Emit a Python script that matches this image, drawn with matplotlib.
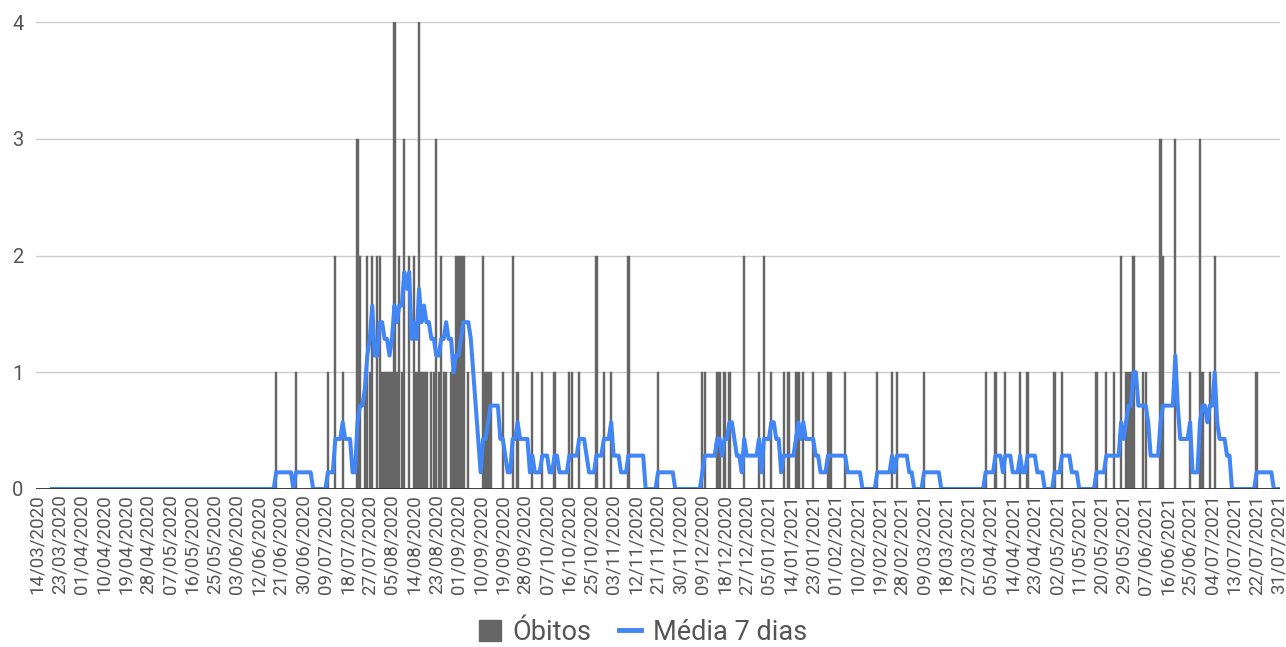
import matplotlib
matplotlib.use('Agg')
import matplotlib.pyplot as plt
from matplotlib.lines import Line2D
from matplotlib.patches import Patch
import pandas as pd

plt.rcParams['font.family'] = ['Roboto', 'DejaVu Sans']

inicio = '2020-03-14'
fim = '2021-07-31'

# dias com óbitos (os demais dias do período têm 0)
datas_obito = [
    '2020-06-19', '2020-06-27', '2020-07-10', '2020-07-13', '2020-07-16',
    '2020-07-22', '2020-07-23', '2020-07-25', '2020-07-26', '2020-07-27',
    '2020-07-28', '2020-07-30', '2020-07-31', '2020-08-01', '2020-08-02',
    '2020-08-03', '2020-08-04', '2020-08-05', '2020-08-06', '2020-08-07',
    '2020-08-08', '2020-08-09', '2020-08-10', '2020-08-12', '2020-08-14',
    '2020-08-15', '2020-08-16', '2020-08-17', '2020-08-18', '2020-08-19',
    '2020-08-21', '2020-08-22', '2020-08-23', '2020-08-24', '2020-08-25',
    '2020-08-26', '2020-08-27', '2020-08-29', '2020-08-30', '2020-08-31',
    '2020-09-01', '2020-09-02', '2020-09-03', '2020-09-05', '2020-09-11',
    '2020-09-12', '2020-09-13', '2020-09-14', '2020-09-19', '2020-09-23',
    '2020-09-25', '2020-10-01', '2020-10-05', '2020-10-10', '2020-10-16',
    '2020-10-17', '2020-10-20', '2020-10-27', '2020-10-30', '2020-11-02',
    '2020-11-09', '2020-11-21', '2020-12-09', '2020-12-10', '2020-12-15',
    '2020-12-16', '2020-12-18', '2020-12-20', '2020-12-26', '2021-01-01',
    '2021-01-03', '2021-01-06', '2021-01-11', '2021-01-13', '2021-01-16',
    '2021-01-17', '2021-01-19', '2021-01-23', '2021-01-29', '2021-01-30',
    '2021-02-05', '2021-02-18', '2021-02-24', '2021-02-26', '2021-03-09',
    '2021-04-03', '2021-04-07', '2021-04-11', '2021-04-17', '2021-04-20',
    '2021-05-01', '2021-05-04', '2021-05-18', '2021-05-22', '2021-05-25',
    '2021-05-28', '2021-05-30', '2021-05-31', '2021-06-01', '2021-06-02',
    '2021-06-06', '2021-06-07', '2021-06-13', '2021-06-14', '2021-06-19',
    '2021-06-25', '2021-06-29', '2021-06-30', '2021-07-03', '2021-07-05',
    '2021-07-22',
]
obitos = [
    1, 1, 1, 2, 1,
    3, 2, 1, 2, 1,
    2, 2, 2, 1, 1,
    1, 1, 1, 4, 1,
    2, 1, 3, 2, 2,
    1, 4, 1, 1, 1,
    1, 1, 3, 1, 2,
    1, 1, 1, 1, 2,
    2, 2, 2, 1, 2,
    1, 1, 1, 1, 2,
    1, 1, 1, 1, 1,
    1, 1, 2, 1, 1,
    2, 1, 1, 1, 1,
    1, 1, 1, 2, 1,
    2, 1, 1, 1, 1,
    1, 1, 1, 1, 1,
    1, 1, 1, 1, 1,
    1, 1, 1, 1, 1,
    1, 1, 1, 1, 1,
    2, 1, 1, 1, 2,
    1, 1, 3, 2, 3,
    1, 3, 1, 1, 2,
    1,
]

dias = pd.date_range(inicio, fim, freq='D')
serie = pd.Series(obitos, index=pd.to_datetime(datas_obito)).reindex(dias, fill_value=0)
media = serie.rolling(7).mean()
x = range(len(dias))

fig = plt.figure(figsize=(12.86, 6.47), dpi=100)
ax = fig.add_axes([36 / 1286, 1 - 489 / 647, (1280 - 36) / 1286, (489 - 22) / 647])

ax.bar(x, serie.values, width=0.9, color='#666666', edgecolor='#666666', linewidth=0.3, zorder=2)
ax.plot(x, media.values, color='#4285f4', linewidth=2.9, zorder=3)

ax.set_xlim(-0.5, len(dias) - 0.5)
ax.set_ylim(0, 4)
ax.set_yticks([0, 1, 2, 3, 4])
ax.grid(axis='y', color='#cccccc', linewidth=1, zorder=0)
ax.axhline(0, color='#333333', linewidth=1.3, zorder=4)
for s in ax.spines.values():
    s.set_visible(False)

pos = list(range(0, len(dias), 9))
ax.set_xticks(pos)
ax.set_xticklabels([dias[i].strftime('%d/%m/%Y') for i in pos], rotation=90)
ax.tick_params(axis='x', length=0, pad=4, labelsize=13.5, labelcolor='#555555')
ax.tick_params(axis='y', length=0, pad=9, labelsize=14.5, labelcolor='#555555')

handles = [Patch(color='#666666'), Line2D([0], [0], color='#4285f4', linewidth=3.5)]
fig.legend(handles, ['Óbitos', 'Média 7 dias'], loc='center', bbox_to_anchor=(0.5, 0.022),
           ncol=2, frameon=False, fontsize=19.5, labelcolor='#555555',
           handlelength=0.8, handleheight=0.8, handletextpad=0.45, columnspacing=1.0)

fig.savefig('out.png', dpi=100, facecolor='white')
